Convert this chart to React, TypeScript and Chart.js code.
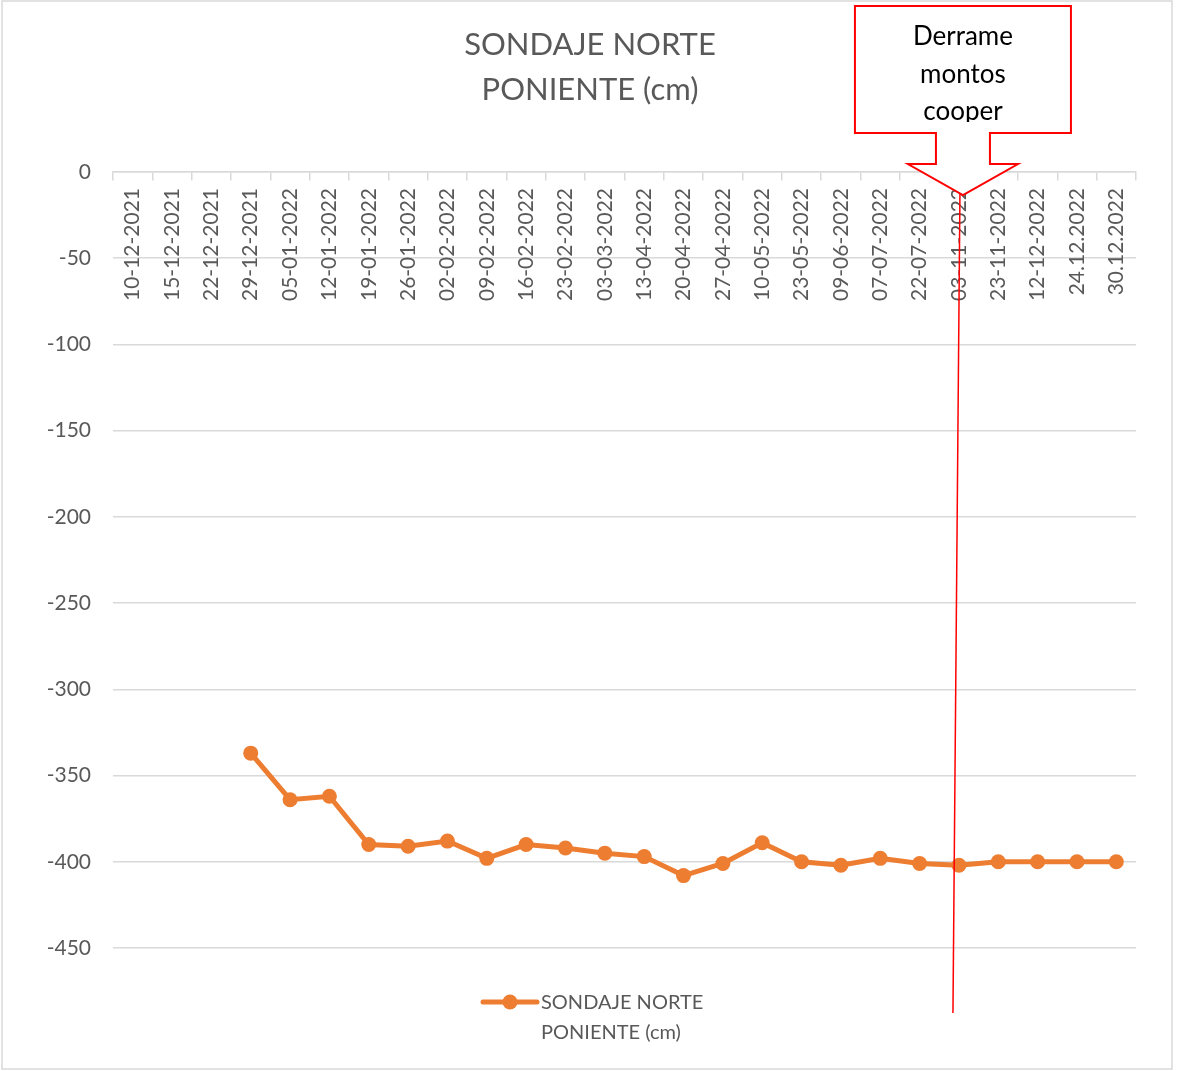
import React, { useEffect, useRef } from 'react';
import { Chart, registerables } from 'chart.js';

Chart.register(...registerables);

const categories: string[] = [
  '10-12-2021', '15-12-2021', '22-12-2021', '29-12-2021', '05-01-2022', '12-01-2022',
  '19-01-2022', '26-01-2022', '02-02-2022', '09-02-2022', '16-02-2022', '23-02-2022',
  '03-03-2022', '13-04-2022', '20-04-2022', '27-04-2022', '10-05-2022', '23-05-2022',
  '09-06-2022', '07-07-2022', '22-07-2022', '03-11-2022', '23-11-2022', '12-12-2022',
  '24.12.2022', '30.12.2022',
];

const sondajeValues: (number | null)[] = [
  null, null, null, -337, -364, -362,
  -390, -391, -388, -398, -390, -392,
  -395, -397, -408, -401, -389, -400,
  -402, -398, -401, -402, -400, -400,
  -400, -400,
];

const seriesLabel = 'SONDAJE NORTE PONIENTE (cm)';
const seriesLabelLines = ['SONDAJE NORTE', 'PONIENTE (cm)'];
const titleLines = ['SONDAJE NORTE', 'PONIENTE (cm)'];
const calloutLines = ['Derrame', 'montos', 'cooper'];
const calloutCategory = '03-11-2022';

const ORANGE = '#ED7D31';
const GRAY_TEXT = '#595959';
const GRID = '#d9d9d9';
const FONT = 'Lato';

const decorPlugin = {
  id: 'decor',
  beforeDraw(chart: any) {
    const ctx = chart.ctx;
    ctx.save();
    ctx.fillStyle = '#ffffff';
    ctx.fillRect(0, 0, chart.width, chart.height);
    ctx.strokeStyle = GRID;
    ctx.lineWidth = 1.5;
    ctx.strokeRect(2, 1, chart.width - 8, chart.height - 3);
    ctx.restore();
  },
  afterDraw(chart: any) {
    const ctx = chart.ctx;
    const xs = chart.scales.x;
    const ys = chart.scales.y;
    const W = chart.width;

    // Title
    ctx.save();
    ctx.fillStyle = GRAY_TEXT;
    ctx.font = `31px ${FONT}`;
    ctx.textAlign = 'center';
    ctx.textBaseline = 'alphabetic';
    ctx.fillText(titleLines[0], 590, 55);
    ctx.fillText(titleLines[1], 590, 100);
    ctx.restore();

    // Legend (custom, two-line label)
    const ds = chart.data.datasets[0];
    const ly = 1002;
    ctx.save();
    ctx.strokeStyle = ds.borderColor;
    ctx.lineWidth = ds.borderWidth;
    ctx.lineCap = 'round';
    ctx.beginPath();
    ctx.moveTo(W / 2 - 106, ly);
    ctx.lineTo(W / 2 - 52, ly);
    ctx.stroke();
    ctx.fillStyle = ds.pointBackgroundColor;
    ctx.beginPath();
    ctx.arc(W / 2 - 79, ly, ds.pointRadius, 0, Math.PI * 2);
    ctx.fill();
    ctx.fillStyle = GRAY_TEXT;
    ctx.font = `20px ${FONT}`;
    ctx.textAlign = 'left';
    ctx.textBaseline = 'alphabetic';
    ctx.fillText(seriesLabelLines[0], W / 2 - 48, 1009);
    ctx.fillText(seriesLabelLines[1], W / 2 - 48, 1039);
    ctx.restore();

    // Red vertical marker line
    const idx = categories.indexOf(calloutCategory);
    const px = xs.getPixelForValue(idx);
    const cx = px + 4;
    const tipY = 195;
    ctx.save();
    ctx.strokeStyle = '#FF0000';
    ctx.lineWidth = 1.5;
    ctx.beginPath();
    ctx.moveTo(px + 1, tipY - 2);
    ctx.lineTo(px - 6, ys.bottom + 65);
    ctx.stroke();
    ctx.restore();

    // Callout box with downward arrow
    ctx.save();
    ctx.beginPath();
    ctx.moveTo(cx - 108, 6);
    ctx.lineTo(cx + 108, 6);
    ctx.lineTo(cx + 108, 133);
    ctx.lineTo(cx + 27, 133);
    ctx.lineTo(cx + 27, 164);
    ctx.lineTo(cx + 55, 164);
    ctx.lineTo(cx, tipY);
    ctx.lineTo(cx - 55, 164);
    ctx.lineTo(cx - 27, 164);
    ctx.lineTo(cx - 27, 133);
    ctx.lineTo(cx - 108, 133);
    ctx.closePath();
    ctx.fillStyle = '#ffffff';
    ctx.fill();
    ctx.strokeStyle = '#FF0000';
    ctx.lineWidth = 2;
    ctx.stroke();
    ctx.beginPath();
    ctx.rect(cx - 106, 8, 212, 114);
    ctx.clip();
    ctx.fillStyle = '#000000';
    ctx.font = `26px ${FONT}`;
    ctx.textAlign = 'center';
    ctx.textBaseline = 'alphabetic';
    ctx.fillText(calloutLines[0], cx, 45);
    ctx.fillText(calloutLines[1], cx, 83);
    ctx.fillText(calloutLines[2], cx, 120);
    ctx.restore();
  },
};

export default function App() {
  const ref = useRef<HTMLCanvasElement | null>(null);

  useEffect(() => {
    if (!ref.current) return;
    const chart = new Chart(ref.current, {
      type: 'line',
      data: {
        labels: categories,
        datasets: [
          {
            label: seriesLabel,
            data: sondajeValues,
            borderColor: ORANGE,
            backgroundColor: ORANGE,
            pointBackgroundColor: ORANGE,
            pointBorderColor: ORANGE,
            borderWidth: 5,
            pointRadius: 7.5,
            pointBorderWidth: 0,
            tension: 0,
            spanGaps: false,
          },
        ],
      },
      options: {
        animation: false,
        responsive: false,
        devicePixelRatio: 1,
        layout: { padding: { left: 0, right: 42, top: 172, bottom: 123 } },
        plugins: {
          legend: { display: false },
          title: { display: false },
          tooltip: { enabled: false },
        },
        scales: {
          x: {
            type: 'category',
            position: { y: 0 } as any,
            offset: true,
            grid: {
              offset: true,
              drawOnChartArea: false,
              color: GRID,
              lineWidth: 1.5,
              tickLength: 8,
            },
            border: { display: true, color: GRID, width: 1.5 },
            ticks: {
              autoSkip: false,
              minRotation: 90,
              maxRotation: 90,
              padding: 8,
              color: GRAY_TEXT,
              font: { family: FONT, size: 21 },
            },
          },
          y: {
            min: -450,
            max: 0,
            ticks: {
              stepSize: 50,
              color: GRAY_TEXT,
              font: { family: FONT, size: 21 },
              padding: 22,
            },
            grid: { color: GRID, lineWidth: 1.5, drawTicks: false },
            border: { display: false },
            afterFit: (scale: any) => {
              scale.width = 113;
            },
          },
        },
      },
      plugins: [decorPlugin],
    });
    if ((document as any).fonts && (document as any).fonts.ready) {
      (document as any).fonts.ready.then(() => chart.update());
    }
    return () => chart.destroy();
  }, []);

  return (
    <div style={{ position: 'absolute', left: 0, top: 0, width: 1178, height: 1071, background: '#fff' }}>
      <canvas ref={ref} width={1178} height={1071} style={{ display: 'block' }} />
    </div>
  );
}
